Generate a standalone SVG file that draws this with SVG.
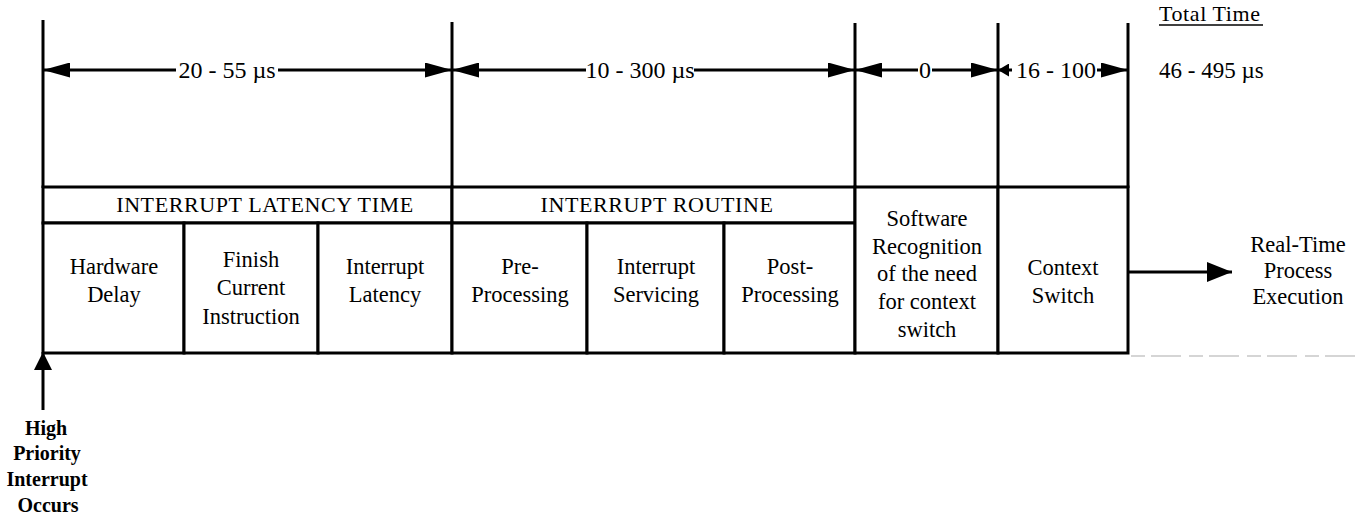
<svg xmlns="http://www.w3.org/2000/svg" width="1361" height="520" viewBox="0 0 1361 520">
<style>
  .ln { stroke:#000; stroke-width:3; fill:none; }
  .cell { stroke:#000; stroke-width:3; fill:#fff; }
  text { font-family:'Liberation Serif','Times New Roman',serif; fill:#000; }
  .t { font-size:22.5px; text-anchor:middle; }
  .hd { font-size:22px; text-anchor:middle; letter-spacing:0.6px; }
  .dim { font-size:24px; text-anchor:middle; }
  .b { font-size:20px; font-weight:bold; text-anchor:middle; }
  .tot { font-size:22px; letter-spacing:0.6px; }
</style>
<defs>
  <marker id="ah" viewBox="0 0 27 15" refX="27" refY="7.5" markerWidth="27" markerHeight="15" markerUnits="userSpaceOnUse" orient="auto-start-reverse">
    <path d="M0,0 L27,7.5 L0,15 z" fill="#000"/>
  </marker>
  <marker id="ahs" viewBox="0 0 11 13" refX="11" refY="6.5" markerWidth="11" markerHeight="13" markerUnits="userSpaceOnUse" orient="auto-start-reverse">
    <path d="M0,0 L11,6.5 L0,13 z" fill="#000"/>
  </marker>
  <marker id="ahb" viewBox="0 0 25 20" refX="25" refY="10" markerWidth="25" markerHeight="20" markerUnits="userSpaceOnUse" orient="auto">
    <path d="M0,0 L25,10 L0,20 z" fill="#000"/>
  </marker>
  <marker id="ahu" viewBox="0 0 18 18" refX="18" refY="9" markerWidth="18" markerHeight="18" markerUnits="userSpaceOnUse" orient="auto">
    <path d="M0,0 L18,9 L0,18 z" fill="#000"/>
  </marker>
</defs>
<rect width="1361" height="520" fill="#fff"/>

<g id="guides">
  <line class="ln" x1="43" y1="20" x2="43" y2="188"/>
  <line class="ln" x1="452" y1="22" x2="452" y2="188"/>
  <line class="ln" x1="855" y1="23" x2="855" y2="188"/>
  <line class="ln" x1="998" y1="23" x2="998" y2="188"/>
  <line class="ln" x1="1128" y1="23" x2="1128" y2="188"/>
  <line x1="1131" y1="356" x2="1361" y2="356" stroke="#c8c8c8" stroke-width="1.5" stroke-dasharray="14 6 30 8"/>
</g>

<g id="total-time">
  <text class="tot" x="1159" y="21">Total Time</text>
  <line x1="1159" y1="25" x2="1263" y2="25" stroke="#000" stroke-width="1.3"/>
  <text class="tot" x="1159" y="78" style="font-size:23px;letter-spacing:0">46 - 495 µs</text>
</g>

<g id="header-latency">
  <rect class="cell" x="43" y="187" width="409" height="36"/>
  <text class="hd" x="265" y="212">INTERRUPT LATENCY TIME</text>
</g>
<g id="header-routine">
  <rect class="cell" x="452" y="187" width="403" height="36"/>
  <text class="hd" x="657" y="212">INTERRUPT ROUTINE</text>
</g>

<g id="hardware-delay">
  <rect class="cell" x="43" y="223" width="141" height="130"/>
  <text class="t" x="114" y="274">Hardware</text>
  <text class="t" x="114" y="302">Delay</text>
</g>
<g id="finish-current">
  <rect class="cell" x="184" y="223" width="134" height="130"/>
  <text class="t" x="251" y="267">Finish</text>
  <text class="t" x="251" y="295">Current</text>
  <text class="t" x="251" y="324">Instruction</text>
</g>
<g id="interrupt-latency">
  <rect class="cell" x="318" y="223" width="134" height="130"/>
  <text class="t" x="385" y="274">Interrupt</text>
  <text class="t" x="385" y="302">Latency</text>
</g>
<g id="pre-processing">
  <rect class="cell" x="452" y="223" width="135" height="130"/>
  <text class="t" x="520" y="274">Pre-</text>
  <text class="t" x="520" y="302">Processing</text>
</g>
<g id="interrupt-servicing">
  <rect class="cell" x="587" y="223" width="137" height="130"/>
  <text class="t" x="656" y="274">Interrupt</text>
  <text class="t" x="656" y="302">Servicing</text>
</g>
<g id="post-processing">
  <rect class="cell" x="724" y="223" width="131" height="130"/>
  <text class="t" x="790" y="274">Post-</text>
  <text class="t" x="790" y="302">Processing</text>
</g>
<g id="software-recognition">
  <rect class="cell" x="855" y="187" width="143" height="166"/>
  <text class="t" x="927" y="226">Software</text>
  <text class="t" x="927" y="254">Recognition</text>
  <text class="t" x="927" y="281">of the need</text>
  <text class="t" x="927" y="309">for context</text>
  <text class="t" x="927" y="337">switch</text>
</g>
<g id="context-switch">
  <rect class="cell" x="998" y="187" width="130" height="166"/>
  <text class="t" x="1063" y="275">Context</text>
  <text class="t" x="1063" y="303">Switch</text>
</g>

<g id="real-time">
  <text class="t" x="1298" y="252">Real-Time</text>
  <text class="t" x="1298" y="278">Process</text>
  <text class="t" x="1298" y="304">Execution</text>
</g>

<g id="high-priority">
  <text class="b" x="46" y="435">High</text>
  <text class="b" x="47" y="460">Priority</text>
  <text class="b" x="47" y="486">Interrupt</text>
  <text class="b" x="48" y="512">Occurs</text>
</g>

<g id="connectors">
  <line class="ln" x1="43" y1="70" x2="176" y2="70" marker-start="url(#ah)"/>
  <text class="dim" x="227" y="78">20 - 55 µs</text>
  <line class="ln" x1="278" y1="70" x2="452" y2="70" marker-end="url(#ah)"/>

  <line class="ln" x1="452" y1="70" x2="586" y2="70" marker-start="url(#ah)"/>
  <text class="dim" x="640" y="78">10 - 300 µs</text>
  <line class="ln" x1="694" y1="70" x2="855" y2="70" marker-end="url(#ah)"/>

  <line class="ln" x1="855" y1="70" x2="918" y2="70" marker-start="url(#ah)"/>
  <text class="dim" x="925" y="78">0</text>
  <line class="ln" x1="932" y1="70" x2="998" y2="70" marker-end="url(#ah)"/>

  <line class="ln" x1="998" y1="70" x2="1012" y2="70" marker-start="url(#ahs)"/>
  <text class="dim" x="1056" y="78">16 - 100</text>
  <line class="ln" x1="1097" y1="70" x2="1128" y2="70" marker-end="url(#ah)"/>

  <line class="ln" x1="1128" y1="272" x2="1232" y2="272" marker-end="url(#ahb)"/>
  <line class="ln" x1="43" y1="410" x2="43" y2="352" marker-end="url(#ahu)"/>
</g>
</svg>
